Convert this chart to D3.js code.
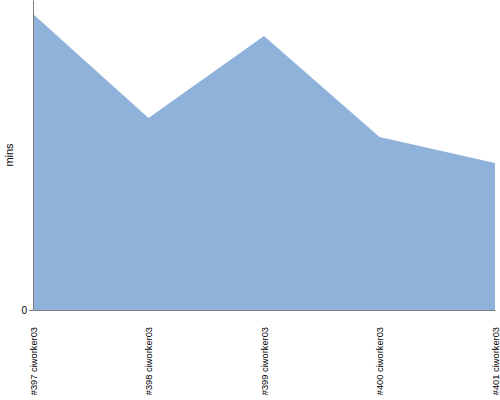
<!DOCTYPE html>
<html><head><meta charset="utf-8">
<script src="https://cdn.jsdelivr.net/npm/d3@7"></script>
<style>body{margin:0;background:#fff}svg{display:block}</style>
</head><body>
<svg id="c" width="500" height="400"></svg>
<script>
const categories = ["#397 ciworker03","#398 ciworker03","#399 ciworker03","#400 ciworker03","#401 ciworker03"];
const values = [29.6, 19.2, 27.4, 17.3, 14.7];
const yTicks = [0];

const svg = d3.select("#c");
const m = {l:33, r:5, t:0, b:90};
const W = 500, H = 400;
const x = d3.scalePoint().domain(categories).range([m.l, W - m.r]);
const y = d3.scaleLinear().domain([0, 31]).range([H - m.b, m.t]);

const area = d3.area().x((d,i)=>x(categories[i])).y0(y(0)).y1(d=>y(d));
svg.append("path").datum(values).attr("d", area).attr("fill", "#8fb2db");

const font = "Liberation Sans, Arial, sans-serif";
// y axis
const ya = svg.append("g").attr("transform", `translate(${m.l},0)`)
  .call(d3.axisLeft(y).tickValues(yTicks).tickSize(4).tickSizeOuter(0).tickPadding(2));
ya.select(".domain").attr("stroke", "#808080");
ya.selectAll(".tick line").attr("stroke", "#808080");
ya.selectAll("text").attr("font-family", font).attr("font-size", 10).attr("fill", "#000");

// x axis
const xa = svg.append("g").attr("transform", `translate(0,${y(0)})`)
  .call(d3.axisBottom(x).tickSize(0).tickSizeOuter(0).tickPadding(0));
xa.select(".domain").attr("stroke", "#808080");
xa.selectAll("text").attr("font-family", font).attr("font-size", 9.3).attr("fill", "#000")
  .attr("text-anchor", "end").attr("transform", "rotate(-90)")
  .attr("x", -17).attr("y", 0).attr("dy", "0.35em");

svg.append("text").attr("transform", `translate(13,${(y(0)+m.t)/2}) rotate(-90)`)
  .attr("text-anchor", "middle").attr("font-family", font).attr("font-size", 11).text("mins");
</script>
</body></html>
